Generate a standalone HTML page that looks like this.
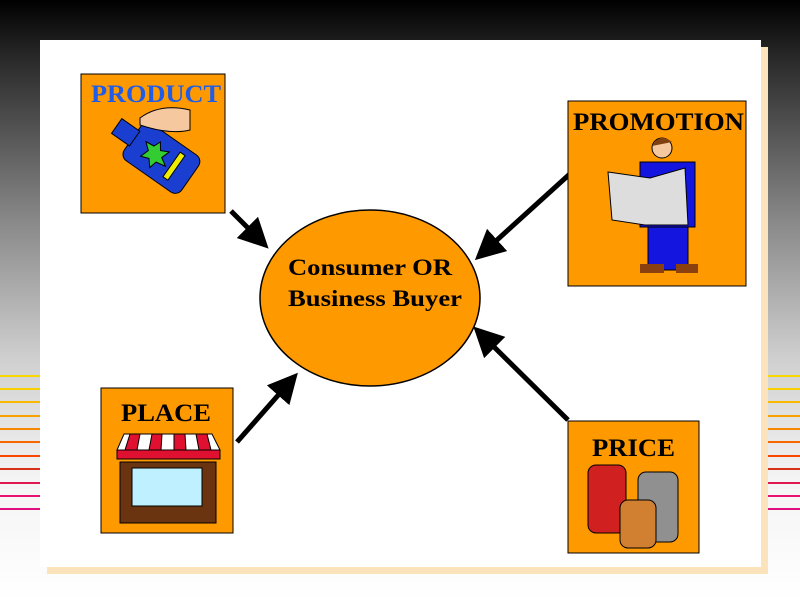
<!DOCTYPE html>
<html><head><style>
html,body{margin:0;padding:0;width:800px;height:600px;overflow:hidden;font-family:"Liberation Serif",serif}
body{background:linear-gradient(#000 0px,#2a2a2a 60px,#888 220px,#d0d0d0 360px,#f4f4f4 480px,#fff 600px)}
</style></head><body>
<svg width="800" height="600" style="position:absolute;left:0;top:0">
<g stroke-width="2">
<line x1="0" y1="376" x2="800" y2="376" stroke="#f8d800"/>
<line x1="0" y1="389" x2="800" y2="389" stroke="#f8d000"/>
<line x1="0" y1="402" x2="800" y2="402" stroke="#f8b800"/>
<line x1="0" y1="416" x2="800" y2="416" stroke="#f8a000"/>
<line x1="0" y1="429" x2="800" y2="429" stroke="#f88800"/>
<line x1="0" y1="442" x2="800" y2="442" stroke="#f86800"/>
<line x1="0" y1="456" x2="800" y2="456" stroke="#f84800"/>
<line x1="0" y1="469" x2="800" y2="469" stroke="#d83018"/>
<line x1="0" y1="483" x2="800" y2="483" stroke="#e01850"/>
<line x1="0" y1="496" x2="800" y2="496" stroke="#e81070"/>
<line x1="0" y1="509" x2="800" y2="509" stroke="#e01080"/>
</g>
<rect x="47" y="47" width="721" height="527" fill="#fbe3bb"/>
<rect x="40" y="40" width="721" height="527" fill="#fff"/>
<ellipse cx="370" cy="298" rx="110" ry="88" fill="#ff9900" stroke="#000" stroke-width="1.5"/>
<text x="288" y="275" font-size="23" font-weight="bold" textLength="164" lengthAdjust="spacingAndGlyphs">Consumer OR</text>
<text x="288" y="306" font-size="23" font-weight="bold" textLength="174" lengthAdjust="spacingAndGlyphs">Business Buyer</text>
<defs><marker id="a" markerWidth="6" markerHeight="6" refX="3" refY="3" orient="auto" markerUnits="strokeWidth"><path d="M0,0 L6,3 L0,6 z" fill="#000"/></marker></defs>
<g stroke="#000" stroke-width="5" marker-end="url(#a)">
<line x1="231" y1="211" x2="258" y2="238"/>
<line x1="572" y1="172" x2="486" y2="250"/>
<line x1="237" y1="442" x2="288" y2="384"/>
<line x1="568" y1="420" x2="484" y2="337"/>
</g>
<rect x="81" y="74" width="144" height="139" fill="#ff9900" stroke="#000"/>
<text x="91" y="102" font-size="25" font-weight="bold" fill="#1f5ce8" textLength="130" lengthAdjust="spacingAndGlyphs">PRODUCT</text>
<g transform="rotate(35 160 160)"><rect x="125" y="135" width="70" height="45" rx="8" fill="#1a3fd0" stroke="#000"/><rect x="105" y="148" width="22" height="18" fill="#1a3fd0" stroke="#000"/><polygon points="150,145 155,152 163,148 160,157 168,162 158,164 156,172 150,165 142,168 145,159 138,153 147,152" fill="#33cc33" stroke="#000"/><rect x="172" y="142" width="6" height="30" fill="#eeee00" stroke="#000"/></g>
<path d="M140,118 q20,-15 50,-8 l0,20 q-20,5 -50,-5z" fill="#f5c8a0" stroke="#000"/>
<rect x="568" y="101" width="178" height="185" fill="#ff9900" stroke="#000"/>
<text x="573" y="130" font-size="25" font-weight="bold" textLength="171" lengthAdjust="spacingAndGlyphs">PROMOTION</text>
<rect x="648" y="222" width="40" height="48" fill="#1515e0" stroke="#000"/>
<rect x="640" y="162" width="55" height="65" fill="#1515e0" stroke="#000"/>
<circle cx="662" cy="148" r="10" fill="#f5c8a0" stroke="#000"/>
<path d="M652,146 q8,-14 20,-4" fill="#804010"/>
<polygon points="608,172 650,178 685,168 688,225 645,225 612,220" fill="#ddd" stroke="#000"/>
<rect x="640" y="264" width="24" height="9" fill="#8b4010"/><rect x="676" y="264" width="22" height="9" fill="#8b4010"/>
<rect x="101" y="388" width="132" height="145" fill="#ff9900" stroke="#000"/>
<text x="121" y="421" font-size="25" font-weight="bold" textLength="90" lengthAdjust="spacingAndGlyphs">PLACE</text>
<rect x="120" y="462" width="96" height="61" fill="#6b3410" stroke="#000"/>
<rect x="132" y="468" width="70" height="38" fill="#bff0ff" stroke="#000"/>
<g stroke="#000"><path d="M117,450 L124,434 L212,434 L220,450 Z" fill="#fff"/>
<path d="M130,434 l-5,16 h12 l3,-16z M152,434 l-3,16 h12 l1,-16z M174,434 l0,16 h12 l-1,-16z M196,434 l3,16 h12 l-4,-16z" fill="#e01030"/>
<rect x="117" y="450" width="103" height="9" fill="#e01030"/></g>
<rect x="568" y="421" width="131" height="132" fill="#ff9900" stroke="#000"/>
<text x="592" y="456" font-size="25" font-weight="bold" textLength="83" lengthAdjust="spacingAndGlyphs">PRICE</text>
<g stroke="#000"><rect x="588" y="465" width="38" height="68" rx="8" fill="#d02020"/><rect x="638" y="472" width="40" height="70" rx="8" fill="#909090"/><rect x="620" y="500" width="36" height="48" rx="8" fill="#d08030"/></g>
</svg>
</body></html>
